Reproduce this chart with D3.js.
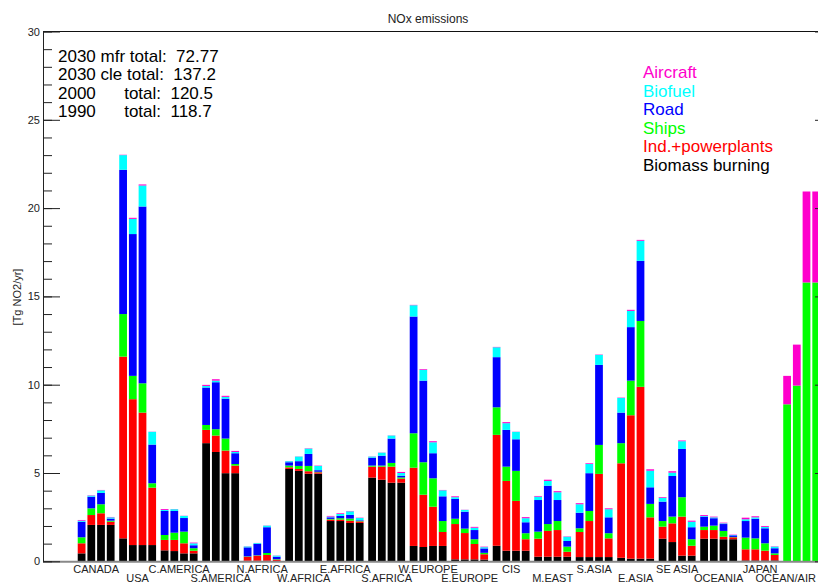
<!DOCTYPE html>
<html>
<head>
<meta charset="utf-8">
<script src="https://cdn.jsdelivr.net/npm/d3@7"></script>
<style>
  body { margin: 0; background: #fff; }
  svg { display: block; font-family: "Liberation Sans", Arial, Helvetica, sans-serif; }
</style>
</head>
<body>
<div id="chart"></div>
<script>
// regions along the x axis, 4 scenario bars each
const regions = ["CANADA","USA","C.AMERICA","S.AMERICA","N.AFRICA","W.AFRICA","E.AFRICA","S.AFRICA",
  "W.EUROPE","E.EUROPE","CIS","M.EAST","S.ASIA","E.ASIA","SE ASIA","OCEANIA","JAPAN","OCEAN/AIR"];
const years = ["1990","2000","2030 cle","2030 mfr"];

// sources, bottom to top of each stack
const sources = ["Biomass burning","Ind.+powerplants","Ships","Road","Biofuel","Aircraft"];
const sourceColors = ["#000000","#ff0000","#00ff00","#0000ff","#00ffff","#ff00cc"];

// Tg NO2/yr, one row per region: [1990, 2000, 2030 cle, 2030 mfr]
const biomass = [
  [0.45,2.06,2.06,2.06],[1.30,0.92,0.92,0.92],[0.62,0.58,0.45,0.45],[6.69,6.19,4.99,4.99],
  [0.03,0.03,0.03,0.02],[5.23,5.12,4.96,4.96],[2.28,2.28,2.17,2.17],[4.74,4.62,4.45,4.45],
  [0.87,0.81,0.87,0.87],[0.11,0.11,0.11,0.10],[0.88,0.60,0.60,0.60],[0.26,0.26,0.26,0.26],
  [0.24,0.24,0.24,0.24],[0.20,0.15,0.15,0.15],[1.28,1.09,0.32,0.32],[1.28,1.28,1.25,1.25],
  [0.05,0.05,0.05,0.05],[0,0,0,0]];
const industry = [
  [0.57,0.56,0.66,0.18],[10.29,8.26,7.50,3.25],[0.59,0.63,0.57,0.15],[0.75,0.93,1.28,0.43],
  [0.23,0.29,0.33,0.07],[0.09,0.11,0.14,0.08],[0.08,0.08,0.13,0.09],[0.62,0.74,0.91,0.23],
  [4.43,2.96,2.22,0.79],[2.00,1.49,0.87,0.30],[6.28,3.95,2.82,0.65],[1.02,1.46,1.51,0.28],
  [1.42,2.04,4.71,1.06],[5.35,8.12,9.73,2.34],[0.68,1.06,2.21,0.56],[0.49,0.49,0.14,0.11],
  [0.63,0.63,0.55,0.31],[0,0,0,0]];
const ships = [
  [0.34,0.38,0.51,0.06],[2.41,1.32,1.66,0.25],[0.28,0.41,0.66,0.14],[0.28,0.36,0.68,0.09],
  [0.02,0.02,0.11,0.03],[0.10,0.17,0.30,0.03],[0.04,0.08,0.12,0.02],[0.06,0.06,0.21,0.07],
  [1.95,1.84,1.61,0.62],[0.30,0.25,0.27,0.08],[1.56,0.81,1.70,0.34],[0.40,0.39,0.51,0.29],
  [0.21,0.57,1.64,0.29],[1.14,1.96,3.73,0.76],[0.32,0.38,1.10,0.37],[0.19,0.25,0.33,0.02],
  [0.66,0.62,0.42,0.09],[8.89,9.95,15.79,15.79]];
const road = [
  [0.88,0.66,0.64,0.12],[8.17,8.03,10.01,2.19],[1.36,1.23,0.77,0.17],[2.12,2.66,2.26,0.61],
  [0.51,0.64,1.46,0.14],[0.19,0.27,0.68,0.09],[0.09,0.13,0.21,0.04],[0.45,0.56,1.38,0.10],
  [6.61,4.62,1.42,1.40],[1.12,0.96,0.52,0.25],[2.84,2.08,1.79,0.62],[1.79,2.17,1.19,0.32],
  [0.88,2.14,4.53,0.90],[1.73,3.03,3.40,0.94],[1.10,2.30,2.73,0.68],[0.57,0.42,0.39,0.09],
  [0.94,1.11,0.85,0.29],[0,0,0,0]];
const biofuel = [
  [0.06,0.06,0.15,0.07],[0.83,0.86,1.19,0.72],[0.06,0.10,0.12,0.11],[0.09,0.09,0.10,0.07],
  [0.05,0.05,0.09,0.06],[0.06,0.26,0.30,0.24],[0.04,0.11,0.20,0.13],[0.06,0.17,0.17,0.15],
  [0.64,0.61,0.62,0.34],[0.10,0.10,0.13,0.07],[0.56,0.38,0.42,0.23],[0.19,0.27,0.44,0.24],
  [0.48,0.52,0.57,0.46],[0.83,0.92,1.14,0.94],[0.22,0.19,0.44,0.31],[0.04,0.05,0.04,0.02],
  [0.10,0.08,0.08,0.09],[0,0,0,0]];
const aircraft = [
  [0.04,0.02,0.02,0.02],[0.02,0.06,0.06,0.01],[0.05,0.01,0.01,0.04],[0.06,0.08,0.06,0.06],
  [0.01,0.01,0.01,0.01],[0.01,0.01,0.02,0.02],[0.04,0.04,0.02,0.02],[0.01,0.01,0.01,0.06],
  [0.02,0.04,0.06,0.02],[0.05,0.01,0.05,0.03],[0.02,0.06,0.01,0.06],[0.04,0.07,0.06,0.02],
  [0.06,0.04,0.02,0.05],[0.02,0.06,0.05,0.08],[0.04,0.08,0.04,0.06],[0.05,0.04,0.04,0.02],
  [0.09,0.06,0.05,0.02],[1.61,2.32,5.15,5.15]];

const totalsText = ["2030 mfr total:  72.77", "2030 cle total:  137.2",
  "2000      total:  120.5", "1990      total:  118.7"];

const yMajor = [0,5,10,15,20,25,30];
const yMinor = d3.range(0, 31, 1);

const drawChart = () => {
    const width = 818, height = 583;
    const left = 43, right = 832, top = 31.5, bottom = 561.3;

    const svg = d3.select('#chart').append('svg')
        .attr('width', width).attr('height', height);

    const series = [biomass, industry, ships, road, biofuel, aircraft];

    // flatten to one row per bar
    const rows = [];
    regions.forEach((r, i) => {
        years.forEach((yr, j) => {
            const row = { region: r, year: yr };
            sources.forEach((s, k) => { row[s] = series[k][i][j]; });
            rows.push(row);
        });
    });
    const stacked = d3.stack().keys(sources)(rows);

    const x = d3.scaleBand().domain(regions).range([75.4, 75.4 + 41.5 * regions.length]);
    const xInner = d3.scaleBand().domain(years).range([0, x.bandwidth()])
        .paddingInner(0.2).paddingOuter(0.24);
    const y = d3.scaleLinear().domain([0, 30]).range([bottom, top]);

    // bars
    const layers = svg.append('g').selectAll('g')
        .data(stacked)
        .enter().append('g')
        .attr('fill', (d, i) => sourceColors[i]);
    layers.selectAll('rect')
        .data(d => d)
        .enter().append('rect')
        .attr('x', d => x(d.data.region) + xInner(d.data.year))
        .attr('width', xInner.bandwidth())
        .attr('y', d => y(d[1]))
        .attr('height', d => Math.max(0, y(d[0]) - y(d[1])));

    // frame
    svg.append('line').attr('x1', left).attr('x2', right + 20).attr('y1', top).attr('y2', top)
        .attr('stroke', '#111').attr('stroke-width', 1.2);
    svg.append('line').attr('x1', left).attr('x2', right + 20).attr('y1', bottom + 0.5).attr('y2', bottom + 0.5)
        .attr('stroke', '#888').attr('stroke-width', 2);

    // left axis, ticks pointing inward
    const yAxis = svg.append('g').attr('transform', `translate(${left},0)`)
        .call(d3.axisLeft(y).tickValues(yMajor).tickSize(-17).tickSizeOuter(0).tickPadding(3).tickFormat(d3.format('d')));
    svg.append('g').attr('transform', `translate(${left},0)`)
        .call(d3.axisLeft(y).tickValues(yMinor).tickSize(-9).tickSizeOuter(0).tickFormat(''));
    yAxis.selectAll('text').attr('font-size', 11).attr('fill', '#222').attr('font-family', null);
    svg.selectAll('.tick line').attr('stroke', '#222');
    svg.selectAll('.domain').attr('stroke', '#222');

    // right axis (mostly off the edge)
    svg.append('g').attr('transform', `translate(${right},0)`)
        .call(d3.axisRight(y).tickValues(yMajor).tickSize(-17).tickSizeOuter(0).tickFormat(''))
        .call(g => g.selectAll('line').attr('stroke', '#222'));

    // region labels, alternating rows
    const xAxis = svg.append('g').attr('transform', `translate(0,${bottom})`)
        .call(d3.axisBottom(x).tickSize(0).tickPadding(0));
    xAxis.select('.domain').remove();
    xAxis.selectAll('text')
        .attr('font-size', 11).attr('font-family', null).attr('fill', '#222')
        .attr('dy', null)
        .attr('y', (d, i) => i % 2 === 0 ? 11.3 : 21)
        .each(function () {
            // keep the last label inside the picture
            const b = this.getBBox();
            const tick = this.parentNode.getAttribute('transform');
            const tx = +tick.match(/translate\(([-\d.]+)/)[1];
            const over = tx + b.x + b.width - (width - 2);
            if (over > 0) d3.select(this).attr('x', -over);
        });

    // title and y label
    svg.append('text').attr('x', 428).attr('y', 23).attr('text-anchor', 'middle')
        .attr('font-size', 12).attr('fill', '#222').text('NOx emissions');
    svg.append('text').attr('transform', 'translate(21,297) rotate(-90)')
        .attr('text-anchor', 'middle').attr('font-size', 11).attr('fill', '#222')
        .text('[Tg NO2/yr]');

    // totals block
    svg.append('g').selectAll('text')
        .data(totalsText)
        .enter().append('text')
        .attr('x', 58)
        .attr('y', (d, i) => 62 + i * 18.4)
        .attr('font-size', 17)
        .attr('fill', '#000')
        .style('white-space', 'pre')
        .text(d => d);

    // legend, top entry is the top of the stack
    const legendItems = sources.map((s, i) => ({ name: s, color: sourceColors[i] })).reverse();
    svg.append('g').selectAll('text')
        .data(legendItems)
        .enter().append('text')
        .attr('x', 643)
        .attr('y', (d, i) => 78 + i * 18.55)
        .attr('font-size', 17)
        .attr('fill', d => d.color)
        .text(d => d.name);

    return svg.node();
};

document.addEventListener('DOMContentLoaded', () => {
    drawChart();
});
</script>
</body>
</html>
